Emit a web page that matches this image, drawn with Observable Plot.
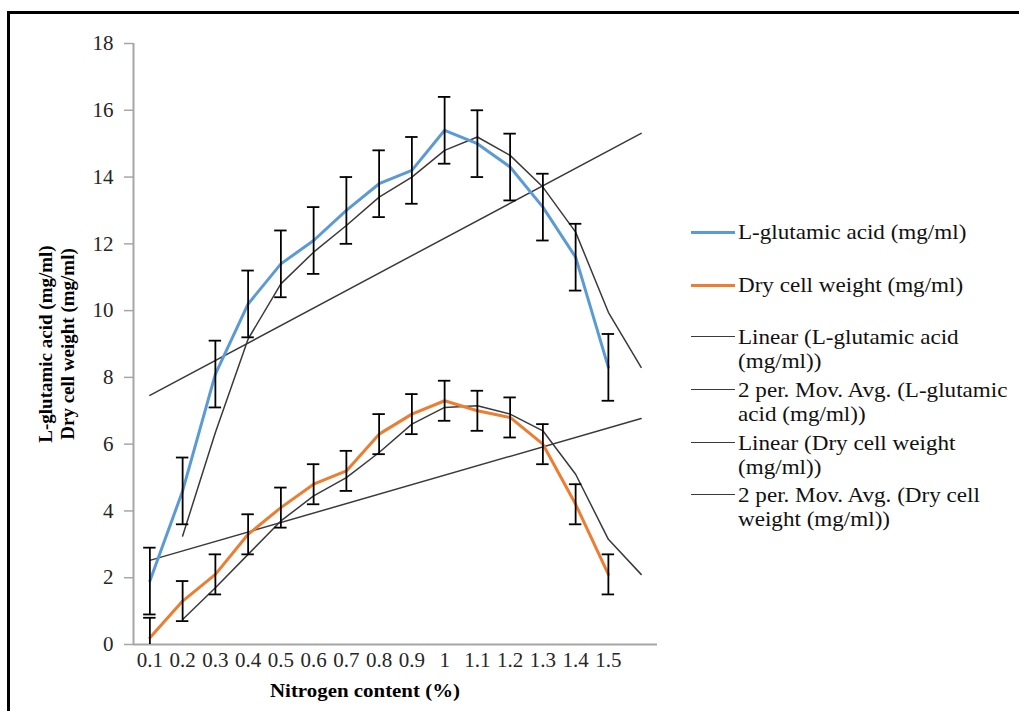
<!DOCTYPE html>
<html>
<head>
<meta charset="utf-8">
<script src="https://cdn.jsdelivr.net/npm/d3@7"></script>
<script src="https://cdn.jsdelivr.net/npm/@observablehq/plot@0.6"></script>
<style>
  html, body { margin: 0; padding: 0; background: #fff; }
  #wrap { position: relative; width: 1019px; height: 711px; overflow: hidden; font-family: "Liberation Serif", "Times New Roman", serif; }
  #frame { position: absolute; left: 7px; top: 11px; width: 1200px; height: 900px; border-top: 3px solid #000; border-left: 3px solid #000; }
  #chart { position: absolute; left: 0; top: 0; }
  .ylab { position: absolute; left: 57px; top: 344px; transform: translate(-50%, -50%) rotate(-90deg); font-weight: bold; font-size: 19px; line-height: 22px; text-align: center; white-space: nowrap; color: #000; }
  .xlab { position: absolute; left: 365px; top: 691px; transform: translate(-50%, -50%) scaleX(1.1); font-weight: bold; font-size: 19px; white-space: nowrap; color: #000; }
  .lg-line { position: absolute; left: 691px; width: 44px; height: 0; }
  .lg-text { position: absolute; left: 738px; font-size: 21px; line-height: 24px; white-space: nowrap; color: #111; transform: scaleX(1.1); transform-origin: left center; }
</style>
</head>
<body>
<div id="wrap">
  <div id="frame"></div>
  <div id="chart"></div>
  <div class="ylab">L-glutamic acid (mg/ml)<br>Dry cell weight (mg/ml)</div>
  <div class="xlab">Nitrogen content (%)</div>
  <div id="legend"></div>
</div>
<script>
// Nitrogen content categories (%)
const nitrogen = ["0.1", "0.2", "0.3", "0.4", "0.5", "0.6", "0.7", "0.8", "0.9", "1", "1.1", "1.2", "1.3", "1.4", "1.5"];

// Measured series (mg/ml)
const glutamic = [1.9, 4.6, 8.1, 10.2, 11.4, 12.1, 13.0, 13.8, 14.2, 15.4, 15.0, 14.3, 13.1, 11.6, 8.3];
const dryWeight = [0.2, 1.3, 2.1, 3.3, 4.1, 4.8, 5.2, 6.3, 6.9, 7.3, 7.0, 6.8, 6.0, 4.2, 2.1];

// Error bar half-widths (mg/ml)
const glutamicErr = [1, 1, 1, 1, 1, 1, 1, 1, 1, 1, 1, 1, 1, 1, 1];
const dryWeightErr = [0.6, 0.6, 0.6, 0.6, 0.6, 0.6, 0.6, 0.6, 0.6, 0.6, 0.6, 0.6, 0.6, 0.6, 0.6];

// 2-period moving averages, plotted from the 2nd category slot through the 16th
const glutamicMovAvg = [3.25, 6.35, 9.15, 10.8, 11.75, 12.55, 13.4, 14.0, 14.8, 15.2, 14.65, 13.7, 12.35, 9.95, 8.3];
const dryWeightMovAvg = [0.75, 1.7, 2.7, 3.7, 4.45, 5.0, 5.75, 6.6, 7.1, 7.15, 6.9, 6.4, 5.1, 3.15, 2.1];

// Linear trend lines: values at the first slot and at the extended 16th slot
const glutamicTrend = [7.46, 15.31];
const dryWeightTrend = [2.52, 6.77];
const trendSlots = [1, 16];

const yTicks = [0, 2, 4, 6, 8, 10, 12, 14, 16, 18];

const BLUE = "#5b9bd5";
const ORANGE = "#ed7d31";
const DARK = "#3a3a3a";
const AXIS = "#a6a6a6";
const LABEL = "#262626";

// Build tables from the arrays (slot index starts at 1)
const measured = (vals, errs) => vals.map((v, i) => ({ slot: i + 1, v, lo: Math.max(0, v - errs[i]), hi: v + errs[i] }));
const gluRows = measured(glutamic, glutamicErr);
const dryRows = measured(dryWeight, dryWeightErr);
const movRows = vals => vals.map((v, i) => ({ slot: i + 2, v }));
const trendRows = vals => vals.map((v, i) => ({ slot: trendSlots[i], v }));

const capHalf = 0.19; // half-width of error bar caps in slot units

const errorMarks = (rows) => [
  Plot.ruleX(rows, { x: "slot", y1: "lo", y2: "hi", stroke: "#000", strokeWidth: 1.8 }),
  Plot.ruleY(rows, { y: "hi", x1: d => d.slot - capHalf, x2: d => d.slot + capHalf, stroke: "#000", strokeWidth: 1.8 }),
  Plot.ruleY(rows.filter(d => d.lo > 0), { y: "lo", x1: d => d.slot - capHalf, x2: d => d.slot + capHalf, stroke: "#000", strokeWidth: 1.8 })
];

const chart = Plot.plot({
  width: 1019,
  height: 711,
  marginLeft: 133,
  marginRight: 362,
  marginTop: 43,
  marginBottom: 67,
  style: { fontFamily: "Liberation Serif, Times New Roman, serif", fontSize: "21px", background: "transparent", overflow: "visible" },
  x: { domain: [0.5, 16.5], axis: null },
  y: { domain: [0, 18], axis: null },
  marks: [
    // axes
    Plot.axisY({ ticks: yTicks, tickSize: 9, tickPadding: 11, stroke: AXIS, strokeWidth: 1.5, fill: LABEL, fontSize: 21, label: null }),
    Plot.axisX({ ticks: d3.range(1, nitrogen.length + 1), tickFormat: d => nitrogen[d - 1], tickSize: 0, tickPadding: 8, fill: LABEL, fontSize: 21, label: null }),
    Plot.ruleX([0.5], { stroke: AXIS, strokeWidth: 2 }),
    Plot.ruleY([0], { stroke: AXIS, strokeWidth: 2 }),
    // trend lines
    Plot.line(trendRows(glutamicTrend), { x: "slot", y: "v", stroke: DARK, strokeWidth: 1.5 }),
    Plot.line(trendRows(dryWeightTrend), { x: "slot", y: "v", stroke: DARK, strokeWidth: 1.5 }),
    // moving averages
    Plot.line(movRows(glutamicMovAvg), { x: "slot", y: "v", stroke: DARK, strokeWidth: 1.5 }),
    Plot.line(movRows(dryWeightMovAvg), { x: "slot", y: "v", stroke: DARK, strokeWidth: 1.5 }),
    // measured series
    Plot.line(gluRows, { x: "slot", y: "v", stroke: BLUE, strokeWidth: 3 }),
    Plot.line(dryRows, { x: "slot", y: "v", stroke: ORANGE, strokeWidth: 3 }),
    // error bars
    ...errorMarks(gluRows),
    ...errorMarks(dryRows)
  ]
});
document.getElementById("chart").appendChild(chart);

// Legend entries
const legendItems = [
  { color: BLUE, width: 3, lines: ["L-glutamic acid (mg/ml)"], y: 232 },
  { color: ORANGE, width: 3, lines: ["Dry cell weight (mg/ml)"], y: 285 },
  { color: DARK, width: 1.6, lines: ["Linear (L-glutamic acid", "(mg/ml))"], y: 337 },
  { color: DARK, width: 1.6, lines: ["2 per. Mov. Avg. (L-glutamic", "acid (mg/ml))"], y: 390 },
  { color: DARK, width: 1.6, lines: ["Linear (Dry cell weight", "(mg/ml))"], y: 443 },
  { color: DARK, width: 1.6, lines: ["2 per. Mov. Avg. (Dry cell", "weight (mg/ml))"], y: 495 }
];
const legend = document.getElementById("legend");
for (const item of legendItems) {
  const ln = document.createElement("div");
  ln.className = "lg-line";
  ln.style.top = (item.y - item.width / 2) + "px";
  ln.style.borderTop = item.width + "px solid " + item.color;
  legend.appendChild(ln);
  const tx = document.createElement("div");
  tx.className = "lg-text";
  tx.style.top = (item.y - 12) + "px";
  tx.innerHTML = item.lines.join("<br>");
  legend.appendChild(tx);
}
</script>
</body>
</html>
